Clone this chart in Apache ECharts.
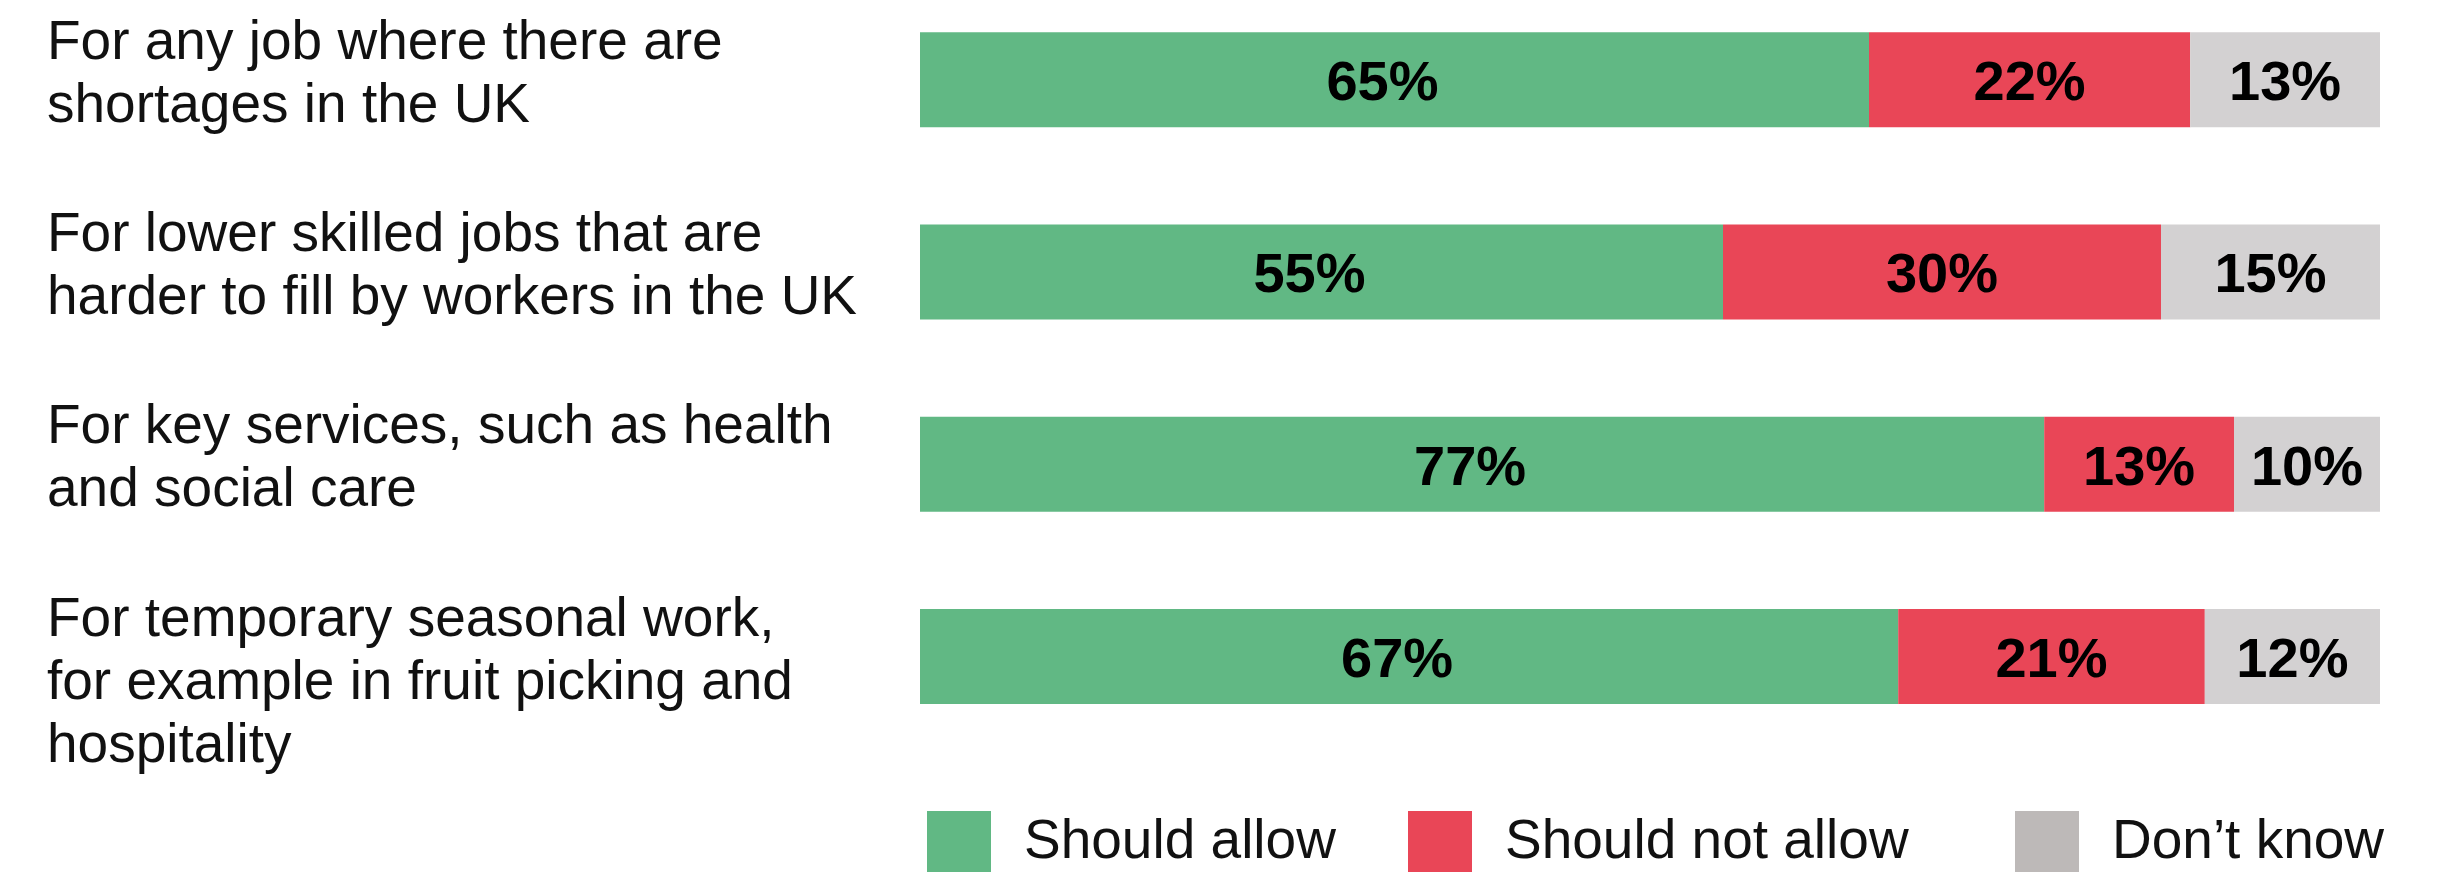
<!DOCTYPE html>
<html>
<head>
<meta charset="utf-8">
<script src="https://cdn.jsdelivr.net/npm/echarts@6/dist/echarts.min.js"></script>
<style>
html,body{margin:0;padding:0;background:#fff;}
#chart{width:2444px;height:872px;}
</style>
</head>
<body>
<div id="chart"></div>
<script>
const categories = [
  "For any job where there are\nshortages in the UK",
  "For lower skilled jobs that are\nharder to fill by workers in the UK",
  "For key services, such as health\nand social care",
  "For temporary seasonal work,\nfor example in fruit picking and\nhospitality"
];
const seriesNames = ["Should allow", "Should not allow", "Don\u2019t know"];
const shouldAllow = [65, 55, 77, 67];
const shouldNotAllow = [22, 30, 13, 21];
const dontKnow = [13, 15, 10, 12];

const barColors = ["#61b884", "#e94657", "#d3d1d2"];
const legendColors = ["#61b884", "#e94657", "#bdb9b8"];
const FONT = "'Liberation Sans', Arial, Helvetica, sans-serif";

function padLines(s) {
  const n = s.split("\n").length;
  let out = "{lead| }\n" + s;
  for (let i = n; i < 3; i++) out += "\n ";
  return out;
}

const chart = echarts.init(document.getElementById("chart"), null, {renderer: "canvas"});

const values = [shouldAllow, shouldNotAllow, dontKnow];
const labelOffsets = [[-12, 5], [0, 5], [0, 5]];
const series = seriesNames.map((name, i) => ({
  name: name,
  type: "bar",
  stack: "total",
  barWidth: 95,
  data: values[i],
  itemStyle: {color: barColors[i]},
  label: {
    show: true,
    position: "inside",
    formatter: "{c}%",
    fontSize: 56,
    fontWeight: "bold",
    fontFamily: FONT,
    color: "#000",
    offset: labelOffsets[i]
  },
  emphasis: {disabled: true},
  silent: true
}));

const legendLefts = [927, 1408, 2015];
const legends = seriesNames.map((name, i) => ({
  show: true,
  left: legendLefts[i],
  top: 811,
  padding: 0,
  itemWidth: 64,
  itemHeight: 64,
  icon: "rect",
  selectedMode: false,
  data: [{name: name, itemStyle: {color: legendColors[i]}}],
  textStyle: {
    fontSize: 55,
    fontFamily: FONT,
    color: "#111",
    padding: [0, 0, 0, 28]
  }
}));

chart.setOption({
  animation: false,
  backgroundColor: "#fff",
  grid: {left: 920, width: 1460, top: -16.5, height: 769, containLabel: false, outerBoundsMode: "none"},
  xAxis: {
    type: "value",
    min: 0,
    max: 100,
    show: false
  },
  yAxis: {
    type: "category",
    inverse: true,
    data: categories,
    axisLine: {show: false},
    axisTick: {show: false},
    splitLine: {show: false},
    axisLabel: {
      interval: 0,
      align: "left",
      verticalAlign: "middle",
      margin: 873,
      fontSize: 55,
      lineHeight: 63,
      fontFamily: FONT,
      color: "#111",
      formatter: function (v) { return padLines(v); },
      rich: {
        lead: {fontSize: 10, lineHeight: 54}
      }
    }
  },
  legend: legends,
  series: series
});
</script>
</body>
</html>
